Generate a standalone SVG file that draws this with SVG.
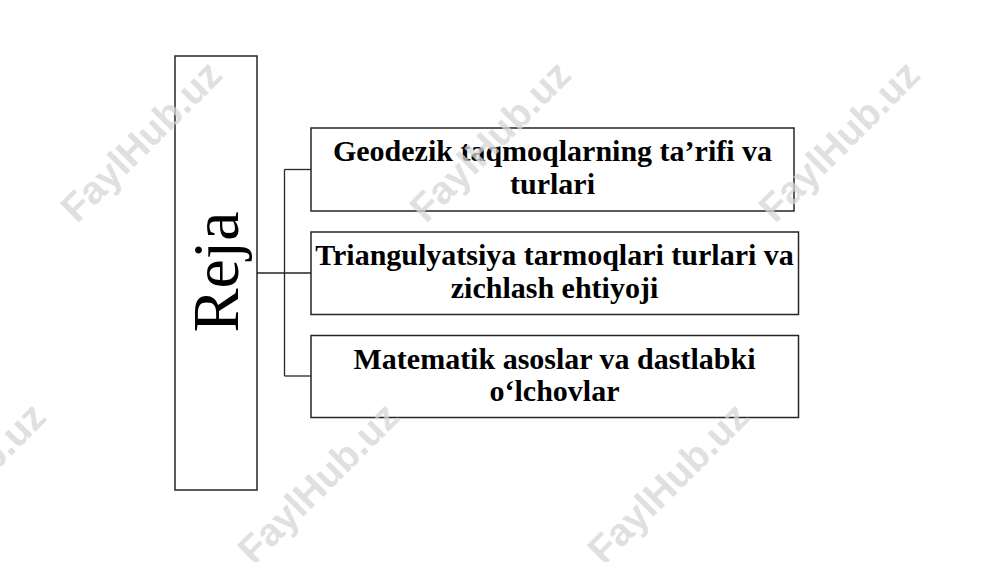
<svg xmlns="http://www.w3.org/2000/svg" width="1000" height="562" viewBox="0 0 1000 562">
  <style>
    .box { fill: #ffffff; stroke: #262626; stroke-width: 1.5; }
    .conn { fill: none; stroke: #262626; stroke-width: 1.3; }
    .lbl { font-family: "Liberation Serif", "Times New Roman", serif; font-weight: bold; font-size: 30px; fill: #000000; text-anchor: middle; }
    .title { font-family: "Liberation Serif", "Times New Roman", serif; font-size: 66px; fill: #000000; text-anchor: middle; }
    .wm { font-family: "Liberation Sans", Arial, sans-serif; font-weight: bold; font-size: 39px; fill: #d6d6d6; fill-opacity: 0.75; text-anchor: middle; dominant-baseline: central; }
  </style>
  <rect width="1000" height="562" fill="#ffffff"/>

  <g id="connectors">
    <path class="conn" d="M257,273 H311"/>
    <path class="conn" d="M284.5,169.5 V376"/>
    <path class="conn" d="M284.5,169.5 H311"/>
    <path class="conn" d="M284.5,376 H311"/>
  </g>

  <g id="node-reja">
    <rect class="box" x="175" y="56" width="82" height="434"/>
    <text class="title" transform="translate(238,272) rotate(-90)">Reja</text>
  </g>

  <g id="node-1">
    <rect class="box" x="311" y="128" width="483" height="83"/>
    <text class="lbl" x="552.5" y="161">Geodezik taqmoqlarning ta’rifi va</text>
    <text class="lbl" x="552.5" y="193.5">turlari</text>
  </g>

  <g id="node-2">
    <rect class="box" x="311" y="232" width="487.5" height="82.5"/>
    <text class="lbl" x="554.5" y="265">Triangulyatsiya tarmoqlari turlari va</text>
    <text class="lbl" x="554.5" y="297.5">zichlash ehtiyoji</text>
  </g>

  <g id="node-3">
    <rect class="box" x="311" y="335.5" width="487.5" height="82"/>
    <text class="lbl" x="554.5" y="369">Matematik asoslar va dastlabki</text>
    <text class="lbl" x="554.5" y="401">o‘lchovlar</text>
  </g>

  <g id="watermarks">
    <text class="wm" transform="translate(141,141) rotate(-45)">FaylHub.uz</text>
    <text class="wm" transform="translate(490,141) rotate(-45)">FaylHub.uz</text>
    <text class="wm" transform="translate(839,141) rotate(-45)">FaylHub.uz</text>
    <text class="wm" transform="translate(-35,483) rotate(-45)">FaylHub.uz</text>
    <text class="wm" transform="translate(318,483) rotate(-45)">FaylHub.uz</text>
    <text class="wm" transform="translate(668,483) rotate(-45)">FaylHub.uz</text>
  </g>
</svg>
